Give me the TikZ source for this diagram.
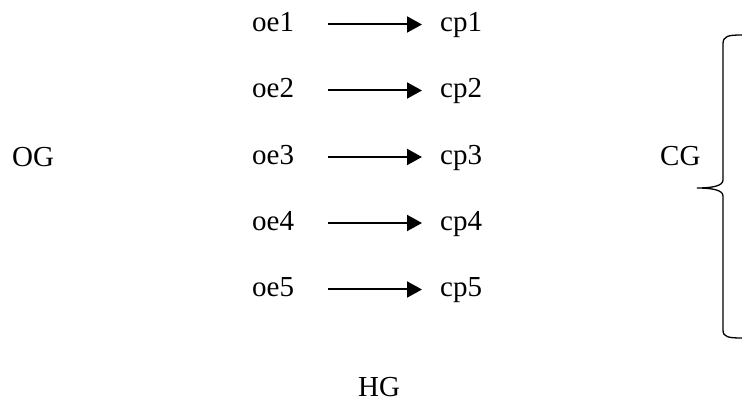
\documentclass[tikz,border=0pt]{standalone}
\usepackage{fontspec}
\setmainfont{Liberation Serif}
\usetikzlibrary{arrows.meta}
\begin{document}
\begin{tikzpicture}[x=1pt,y=-1pt]
    \tikzstyle{word}=[inner sep=0pt,anchor=base west,font=\fontsize{29}{35}\selectfont]
    \tikzstyle{map}=[line width=2pt,-{Triangle[length=15pt,width=16pt]},shorten <=34pt,shorten >=18pt]
    \useasboundingbox (0,0) rectangle (742,403);
    \node (OG)[word] at (12,167) {OG};
    \node (CG)[word] at (660,166) {CG};
    \node (HG)[word] at (358,396) {HG};
    \node (oe1)[word] at (252,32) {oe1};
    \node (oe2)[word] at (252,98) {oe2};
    \node (oe3)[word] at (252,164.5) {oe3};
    \node (oe4)[word] at (252,230.5) {oe4};
    \node (oe5)[word] at (252,297) {oe5};
    \node (cp1)[word] at (440,32) {cp1};
    \node (cp2)[word] at (440,98) {cp2};
    \node (cp3)[word] at (440,164.5) {cp3};
    \node (cp4)[word] at (440,230.5) {cp4};
    \node (cp5)[word] at (440,297) {cp5};
    \draw [map] ([yshift=7.5pt]oe1.base east) -- ([yshift=7.5pt]cp1.base west);
    \draw [map] ([yshift=7.5pt]oe2.base east) -- ([yshift=7.5pt]cp2.base west);
    \draw [map] ([yshift=7.5pt]oe3.base east) -- ([yshift=7.5pt]cp3.base west);
    \draw [map] ([yshift=7.5pt]oe4.base east) -- ([yshift=7.5pt]cp4.base west);
    \draw [map] ([yshift=7.5pt]oe5.base east) -- ([yshift=7.5pt]cp5.base west);
    % brace round the cp side
    \draw [line width=1.3pt] (742,35) .. controls (728,35) and (723,36) .. (723,44)
        -- (723,180) .. controls (723,186) and (712,188) .. (697,188)
        .. controls (712,188) and (723,190) .. (723,196)
        -- (723,330) .. controls (723,337) and (728,338) .. (742,338);
\end{tikzpicture}
\end{document}
